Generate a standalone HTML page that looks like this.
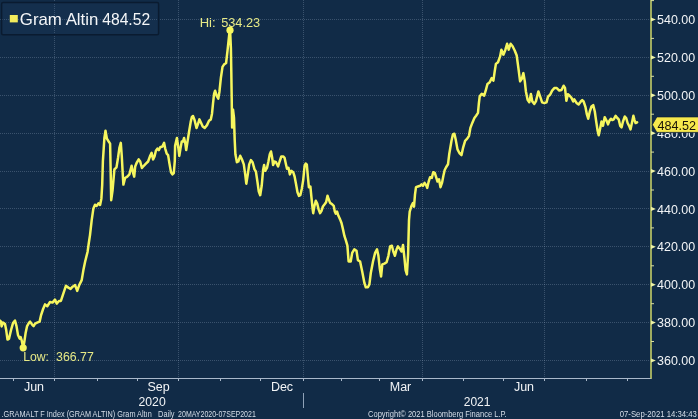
<!DOCTYPE html>
<html><head><meta charset="utf-8"><title>Gram Altin</title>
<style>
html,body{margin:0;padding:0;background:#112b47;}
body{width:698px;height:419px;overflow:hidden;position:relative;font-family:"Liberation Sans",sans-serif;}
svg{position:absolute;left:0;top:0;display:block;will-change:transform;}
text{font-family:"Liberation Sans",sans-serif;}
</style></head><body>
<svg width="698" height="419" viewBox="0 0 698 419">
<rect x="0" y="0" width="698" height="419" fill="#112b47"/>
<g stroke="rgba(170,190,215,0.27)" stroke-width="1" stroke-dasharray="1 1" fill="none" shape-rendering="crispEdges"><line x1="0" y1="360.5" x2="651" y2="360.5"/><line x1="0" y1="322.5" x2="651" y2="322.5"/><line x1="0" y1="284.5" x2="651" y2="284.5"/><line x1="0" y1="246.5" x2="651" y2="246.5"/><line x1="0" y1="208.5" x2="651" y2="208.5"/><line x1="0" y1="171.5" x2="651" y2="171.5"/><line x1="0" y1="133.5" x2="651" y2="133.5"/><line x1="0" y1="95.5" x2="651" y2="95.5"/><line x1="0" y1="57.5" x2="651" y2="57.5"/><line x1="0" y1="19.5" x2="651" y2="19.5"/><line x1="54.5" y1="0" x2="54.5" y2="378"/><line x1="178.5" y1="0" x2="178.5" y2="378"/><line x1="303.5" y1="0" x2="303.5" y2="378"/><line x1="422.5" y1="0" x2="422.5" y2="378"/><line x1="544.5" y1="0" x2="544.5" y2="378"/></g>
<polyline points="0.0,320.6 1.0,321.6 1.6,326.4 3.0,322.6 5.0,324.1 6.2,330.1 7.5,339.6 9.0,338.6 11.0,330.1 13.0,323.1 15.0,320.6 16.5,326.1 18.0,335.1 19.6,338.6 20.6,337.1 21.6,340.1 23.2,347.7 24.3,342.0 25.6,333.1 27.1,326.1 29.1,322.6 30.1,321.6 32.1,324.6 33.6,326.1 35.1,323.6 37.1,322.6 39.6,321.6 41.1,315.0 43.1,309.0 45.0,304.4 47.3,306.2 50.0,302.0 52.5,302.6 55.0,299.6 56.7,303.6 59.0,301.0 60.9,300.9 63.4,293.4 65.9,285.9 68.4,287.6 70.6,288.9 72.6,286.7 75.1,285.1 77.2,290.9 79.2,285.1 81.7,280.1 83.4,270.1 85.1,261.7 87.6,251.7 88.8,243.0 90.0,235.1 91.7,220.1 93.4,208.4 95.0,204.7 96.7,205.9 98.4,203.4 100.1,205.0 101.4,198.4 102.2,185.0 102.9,160.8 104.4,137.9 105.5,130.7 106.9,138.6 108.7,141.5 110.1,143.6 110.6,168.0 111.2,200.2 112.6,190.0 114.4,169.4 116.5,167.3 118.0,158.0 119.4,147.9 120.8,142.9 121.8,156.5 122.8,175.1 123.4,184.6 125.1,178.0 127.3,176.6 129.4,174.4 131.6,165.8 133.3,173.7 134.2,176.6 135.2,166.5 136.6,163.0 138.7,159.4 140.2,161.5 141.9,168.0 143.8,165.8 145.9,163.7 148.1,161.5 150.2,155.8 151.6,152.9 153.1,159.4 154.5,156.5 155.9,150.8 157.4,148.6 158.8,150.1 160.2,147.2 162.4,146.5 164.1,142.9 165.2,148.6 166.7,153.7 168.1,155.1 169.5,163.7 171.0,172.3 172.4,174.4 173.8,173.0 174.8,160.8 175.1,145.8 176.9,138.0 178.4,148.2 179.3,155.9 180.5,148.2 181.7,141.6 182.9,141.6 184.1,138.0 185.3,143.4 186.2,150.0 187.4,142.2 188.9,132.7 190.7,121.9 191.8,117.2 193.0,116.0 194.6,120.1 196.5,128.0 197.9,124.4 199.4,119.4 200.8,122.2 202.7,126.5 204.7,128.0 207.0,125.1 209.0,120.8 210.8,119.4 212.0,113.7 213.0,103.6 214.1,93.6 215.1,90.7 216.6,95.7 218.3,98.6 219.4,92.0 220.9,77.7 222.5,66.9 224.0,64.6 226.1,63.0 227.6,49.8 229.5,32.0 230.1,30.4 230.9,48.3 231.3,71.5 231.7,97.9 231.9,113.7 232.1,127.5 233.0,109.4 234.0,118.0 234.7,140.0 235.4,154.3 236.9,162.2 238.3,161.5 240.2,155.8 241.9,159.3 243.8,164.4 245.2,174.4 246.3,183.7 247.8,174.4 249.2,164.4 250.9,160.1 252.6,162.2 254.5,169.4 255.9,171.5 257.4,181.5 258.8,191.6 260.2,195.2 261.7,185.8 263.1,170.1 264.1,165.1 265.2,170.8 267.0,167.9 268.4,161.5 269.8,154.3 271.0,151.5 272.1,157.2 273.1,165.1 274.6,161.5 276.0,162.2 278.1,166.5 279.6,161.5 281.3,156.5 283.2,156.5 284.6,157.9 286.0,164.4 287.0,168.7 288.5,167.9 289.9,174.4 291.3,170.8 293.2,172.2 294.6,176.5 296.1,184.4 297.5,192.3 298.9,195.9 300.3,195.2 301.8,188.7 303.2,180.1 304.6,165.8 305.7,163.6 306.8,164.4 307.8,175.8 308.9,187.3 310.4,186.6 311.5,197.9 312.6,208.6 313.2,213.2 314.3,206.5 315.8,200.8 317.2,203.6 318.6,209.4 320.1,213.2 321.5,210.8 322.9,206.5 324.6,204.3 326.1,202.2 327.5,195.7 328.7,199.3 330.1,202.9 332.2,204.3 333.7,205.8 334.8,211.5 335.8,213.7 337.0,211.5 338.4,215.8 340.1,219.4 341.5,223.0 343.0,229.4 344.4,235.9 345.8,240.2 347.4,245.7 348.6,261.5 350.7,261.5 352.2,252.9 354.3,249.3 356.5,250.7 357.9,260.1 360.1,261.5 362.2,271.5 364.4,283.0 365.8,287.3 367.9,287.3 369.4,284.4 370.8,273.0 373.0,261.5 375.1,252.9 377.0,249.3 378.4,255.8 379.8,268.7 381.1,276.5 382.3,264.4 384.4,263.6 386.6,262.2 388.4,255.8 390.1,246.4 391.9,245.7 393.3,251.5 394.9,255.8 396.6,249.3 398.0,246.4 400.2,249.3 401.6,251.5 403.0,245.0 404.5,258.6 405.6,270.1 406.9,274.4 408.1,254.3 408.6,235.0 409.0,220.0 409.7,211.6 411.5,205.8 412.9,203.0 414.0,206.6 415.0,194.4 416.0,187.2 417.9,186.5 420.1,185.8 421.5,184.4 422.9,185.8 424.6,182.9 426.1,185.1 427.2,187.9 428.7,181.5 430.1,177.2 431.8,177.9 433.2,172.2 434.8,172.9 436.1,177.2 437.5,181.5 439.0,179.3 440.5,187.2 442.0,182.9 443.4,175.8 444.7,170.0 446.1,167.2 448.0,164.3 449.3,153.7 451.5,140.8 452.9,134.4 454.4,133.7 455.8,140.1 457.5,149.4 459.4,153.0 461.5,155.1 463.2,147.3 465.1,140.8 467.2,138.7 469.0,135.8 470.4,127.9 472.3,122.9 474.4,117.9 476.1,115.7 478.0,112.9 478.8,104.0 479.7,96.4 481.7,93.9 484.2,95.6 485.9,89.8 487.5,83.9 489.7,82.2 491.7,78.1 493.4,80.6 494.7,71.4 495.9,63.9 498.0,62.2 500.1,56.4 501.4,49.7 503.4,54.7 505.4,49.7 507.1,43.8 508.7,49.7 510.6,43.8 512.6,46.3 514.7,50.5 516.7,55.5 518.4,68.1 520.1,81.4 521.8,78.9 523.4,73.1 524.8,81.4 525.9,91.4 527.6,99.8 529.3,102.3 530.9,93.9 532.3,101.4 534.3,103.9 535.9,101.4 538.4,91.4 540.1,96.4 542.1,102.3 544.3,103.1 546.5,102.3 548.1,96.4 550.1,94.8 552.1,90.6 554.3,88.1 556.8,88.1 559.3,90.6 561.5,90.0 563.6,85.7 565.0,87.9 566.4,100.8 567.9,94.3 569.7,95.8 571.5,97.9 573.2,101.5 574.3,99.3 576.5,102.9 578.6,104.4 580.8,101.5 582.2,100.1 583.6,101.5 585.5,107.2 586.9,114.4 588.2,118.7 589.8,111.5 591.5,106.5 593.2,105.1 594.8,111.5 596.2,121.5 597.5,130.1 598.7,135.2 600.1,128.7 601.5,121.5 603.0,125.8 604.7,117.2 606.6,120.8 608.0,124.4 609.4,120.8 610.9,118.7 612.3,120.1 613.7,119.4 615.6,115.8 617.3,118.0 618.7,119.4 620.2,125.8 621.6,127.3 623.0,121.5 624.8,116.5 626.2,118.0 627.6,123.0 629.1,125.8 630.5,129.4 631.9,123.0 633.4,115.8 634.5,120.1 635.6,123.0 637.1,122.3" fill="none" stroke="#f6f65e" stroke-width="2.5" stroke-linejoin="round" stroke-linecap="round"/>
<circle cx="230" cy="30.2" r="3.6" fill="#f6f65e"/>
<circle cx="23.2" cy="347.8" r="3.6" fill="#f6f65e"/>
<g font-size="13px" fill="#e6e986">
<text x="199.7" y="26.8">Hi:</text><text x="221.2" y="26.8" textLength="39" lengthAdjust="spacingAndGlyphs">534.23</text>
<text x="23.2" y="361.2" textLength="25.8" lengthAdjust="spacingAndGlyphs">Low:</text><text x="56.1" y="361.2" textLength="37.7" lengthAdjust="spacingAndGlyphs">366.77</text>
</g>
<!-- legend -->
<rect x="1.6" y="2.4" width="157" height="32.4" rx="1.5" fill="rgba(45,80,125,0.13)" stroke="#0a1b30" stroke-width="1.5"/>
<rect x="9.8" y="15" width="8" height="7.4" fill="#f3ec5c"/>
<g font-size="17px" fill="#f4f6f8">
<text x="19.8" y="25" textLength="78.6" lengthAdjust="spacingAndGlyphs">Gram Altin</text>
<text x="102.2" y="25" textLength="48" lengthAdjust="spacingAndGlyphs">484.52</text>
</g>
<!-- right axis -->
<rect x="650" y="0" width="2" height="379" fill="#9fac60"/>
<path d="M651 358.4 L655.8 360.5 L651 362.6 Z" fill="#eef2a6"/><path d="M651 320.5 L655.8 322.6 L651 324.7 Z" fill="#eef2a6"/><path d="M651 282.6 L655.8 284.7 L651 286.8 Z" fill="#eef2a6"/><path d="M651 244.7 L655.8 246.8 L651 248.9 Z" fill="#eef2a6"/><path d="M651 206.8 L655.8 208.9 L651 211.0 Z" fill="#eef2a6"/><path d="M651 169.0 L655.8 171.1 L651 173.2 Z" fill="#eef2a6"/><path d="M651 131.1 L655.8 133.2 L651 135.3 Z" fill="#eef2a6"/><path d="M651 93.2 L655.8 95.3 L651 97.4 Z" fill="#eef2a6"/><path d="M651 55.3 L655.8 57.4 L651 59.5 Z" fill="#eef2a6"/><path d="M651 17.4 L655.8 19.5 L651 21.6 Z" fill="#eef2a6"/><line x1="651" y1="341.5" x2="654" y2="341.5" stroke="#d9dea0" stroke-width="1"/><line x1="651" y1="303.7" x2="654" y2="303.7" stroke="#d9dea0" stroke-width="1"/><line x1="651" y1="265.8" x2="654" y2="265.8" stroke="#d9dea0" stroke-width="1"/><line x1="651" y1="227.9" x2="654" y2="227.9" stroke="#d9dea0" stroke-width="1"/><line x1="651" y1="190.0" x2="654" y2="190.0" stroke="#d9dea0" stroke-width="1"/><line x1="651" y1="152.1" x2="654" y2="152.1" stroke="#d9dea0" stroke-width="1"/><line x1="651" y1="114.2" x2="654" y2="114.2" stroke="#d9dea0" stroke-width="1"/><line x1="651" y1="76.3" x2="654" y2="76.3" stroke="#d9dea0" stroke-width="1"/><line x1="651" y1="38.4" x2="654" y2="38.4" stroke="#d9dea0" stroke-width="1"/><line x1="651" y1="0.6" x2="654" y2="0.6" stroke="#d9dea0" stroke-width="1"/>
<g font-size="13.2px" fill="#f2f4f6"><text x="657" y="365.1" textLength="38.2" lengthAdjust="spacingAndGlyphs">360.00</text><text x="657" y="327.2" textLength="38.2" lengthAdjust="spacingAndGlyphs">380.00</text><text x="657" y="289.3" textLength="38.2" lengthAdjust="spacingAndGlyphs">400.00</text><text x="657" y="251.4" textLength="38.2" lengthAdjust="spacingAndGlyphs">420.00</text><text x="657" y="213.5" textLength="38.2" lengthAdjust="spacingAndGlyphs">440.00</text><text x="657" y="175.7" textLength="38.2" lengthAdjust="spacingAndGlyphs">460.00</text><text x="657" y="137.8" textLength="38.2" lengthAdjust="spacingAndGlyphs">480.00</text><text x="657" y="99.9" textLength="38.2" lengthAdjust="spacingAndGlyphs">500.00</text><text x="657" y="62.0" textLength="38.2" lengthAdjust="spacingAndGlyphs">520.00</text><text x="657" y="24.1" textLength="38.2" lengthAdjust="spacingAndGlyphs">540.00</text></g>
<!-- value tag -->
<path d="M652.3 124.7 L656.8 116.9 L701 116.9 L701 132.4 L656.8 132.4 Z" fill="#f7e94d" stroke="#0e2038" stroke-width="0.8"/>
<text x="657.6" y="129.7" font-size="12.6px" fill="#1a1408">484.52</text>
<!-- bottom axis -->
<g stroke="#a9b8ca" stroke-width="1" shape-rendering="crispEdges">
<line x1="0" y1="378.5" x2="651" y2="378.5"/><line x1="13.5" y1="378" x2="13.5" y2="381"/><line x1="54.5" y1="378" x2="54.5" y2="381"/><line x1="97.5" y1="378" x2="97.5" y2="381"/><line x1="137.5" y1="378" x2="137.5" y2="381"/><line x1="178.5" y1="378" x2="178.5" y2="381"/><line x1="220.5" y1="378" x2="220.5" y2="381"/><line x1="260.5" y1="378" x2="260.5" y2="381"/><line x1="303.5" y1="378" x2="303.5" y2="381"/><line x1="341.5" y1="378" x2="341.5" y2="381"/><line x1="379.5" y1="378" x2="379.5" y2="381"/><line x1="422.5" y1="378" x2="422.5" y2="381"/><line x1="463.5" y1="378" x2="463.5" y2="381"/><line x1="503.5" y1="378" x2="503.5" y2="381"/><line x1="544.5" y1="378" x2="544.5" y2="381"/><line x1="586.5" y1="378" x2="586.5" y2="381"/><line x1="627.5" y1="378" x2="627.5" y2="381"/>
<line x1="303.5" y1="393" x2="303.5" y2="408" stroke="#8fa2b8"/>
</g>
<g font-size="12.5px" fill="#f2f4f6" text-anchor="middle">
<text x="34" y="391">Jun</text><text x="158.5" y="391">Sep</text><text x="282" y="391">Dec</text>
<text x="400.5" y="391">Mar</text><text x="524" y="391">Jun</text>
<text x="152.1" y="405.8" font-size="13.2px" textLength="27.2" lengthAdjust="spacingAndGlyphs">2020</text><text x="477.1" y="405.8" font-size="13.2px" textLength="26.8" lengthAdjust="spacingAndGlyphs">2021</text>
</g>
<g font-size="8.5px" fill="#d6dee8" lengthAdjust="spacingAndGlyphs">
<text x="1.6" y="417" textLength="150.1" lengthAdjust="spacingAndGlyphs">.GRAMALT F Index (GRAM ALTIN) Gram Altın</text>
<text x="158.1" y="417" textLength="16.4" lengthAdjust="spacingAndGlyphs">Daily</text>
<text x="178.1" y="417" textLength="77.7" lengthAdjust="spacingAndGlyphs">20MAY2020-07SEP2021</text>
<text x="368" y="417" textLength="138.7" lengthAdjust="spacingAndGlyphs">Copyright© 2021 Bloomberg Finance L.P.</text>
<text x="619.7" y="417" textLength="77.2" lengthAdjust="spacingAndGlyphs">07-Sep-2021 14:34:43</text>
</g>
</svg>
</body></html>
